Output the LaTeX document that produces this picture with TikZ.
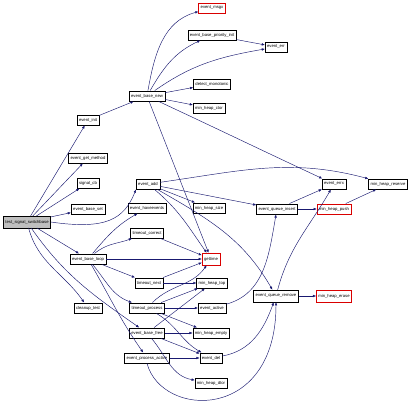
\documentclass[tikz,border=0pt]{standalone}
\usepackage{fontspec}
\setsansfont{Liberation Sans}
\usetikzlibrary{arrows.meta}
\definecolor{midnight}{HTML}{191970}

\begin{document}
\begin{tikzpicture}[
    x=1pt, y=1pt,
    fn/.style={draw, fill=white, minimum height=10.5pt, inner xsep=2pt, inner ysep=0pt,
               font=\fontsize{4.2}{5}\sffamily},
    ext/.style={fn, draw=red!85!black},
    call/.style={-{Latex[length=3.2pt, width=2.6pt]}, midnight, line width=0.45pt},
    >=Latex
  ]
  \useasboundingbox (0,0) rectangle (410,410);

  % --- caller and first level ---
  \node[fn, fill=gray!50, minimum height=11.5pt] (root) at (27,188) {test\_signal\_switchbase};
  \node[fn] (init)      at (88,290) {event\_init};
  \node[fn] (getmethod) at (88,252) {event\_get\_method};
  \node[fn] (sigcb)     at (88,227) {signal\_cb};
  \node[fn] (baseset)   at (88,201) {event\_base\_set};
  \node[fn] (loop)      at (88,151) {event\_base\_loop};
  \node[fn] (cleanup)   at (88,102) {cleanup\_test};

  % --- second level ---
  \node[fn] (basenew)    at (147,314) {event\_base\_new};
  \node[fn] (add)        at (148,226) {event\_add};
  \node[fn] (haveevents) at (147,202) {event\_haveevents};
  \node[fn] (tocorrect)  at (147,177) {timeout\_correct};
  \node[fn] (tonext)     at (149,127) {timeout\_next};
  \node[fn] (toprocess)  at (147,102) {timeout\_process};
  \node[fn] (basefree)   at (147,77)  {event\_base\_free};
  \node[fn] (procactive) at (147,52)  {event\_process\_active};

  % --- third level ---
  \node[ext] (msgx)      at (212,402) {event\_msgx};
  \node[fn]  (prioinit)  at (212,375) {event\_base\_priority\_init};
  \node[fn]  (monotonic) at (212,326) {detect\_monotonic};
  \node[fn]  (heapctor)  at (209,302) {min\_heap\_ctor};
  \node[fn]  (heapsize)  at (209,202) {min\_heap\_size};
  \node[ext, minimum height=12pt] (gettime) at (211,151) {gettime};
  \node[fn]  (heaptop)   at (212,127) {min\_heap\_top};
  \node[fn]  (active)    at (212,102) {event\_active};
  \node[fn]  (heapempty) at (211,77)  {min\_heap\_empty};
  \node[fn]  (del)       at (211,52)  {event\_del};
  \node[fn]  (heapdtor)  at (211,27)  {min\_heap\_dtor};

  % --- queue and heap helpers ---
  \node[fn]  (err)         at (276,363) {event\_err};
  \node[fn]  (qinsert)     at (277,201) {event\_queue\_insert};
  \node[fn, minimum height=12pt] (qremove) at (276,114) {event\_queue\_remove};
  \node[fn]  (errx)        at (334,226) {event\_errx};
  \node[ext] (heappush)    at (334,201) {min\_heap\_push};
  \node[ext, minimum height=12pt] (heaperase) at (334,114) {min\_heap\_erase};
  \node[fn]  (heapreserve) at (388,226) {min\_heap\_reserve};

  % --- calls from test_signal_switchbase ---
  \draw[call] (root) -- (init);
  \draw[call] (root) -- (getmethod);
  \draw[call] (root) -- (sigcb);
  \draw[call] (root) -- (baseset);
  \draw[call] (root.east) .. controls +(55,-8) and +(-12,-30) .. (add.south west);
  \draw[call] (root) -- (loop);
  \draw[call] (root) to[out=-75,in=125] (cleanup);
  \draw[call] (root) to[out=-55,in=145] (basefree);

  % --- event_init / event_base_new ---
  \draw[call] (init) -- (basenew);
  \draw[call] (basenew) to[out=80,in=-165] (msgx);
  \draw[call] (basenew) to[out=60,in=-155] (prioinit);
  \draw[call] (basenew) to[out=35,in=-170] (err);
  \draw[call] (prioinit) -- (err);
  \draw[call] (basenew) -- (monotonic);
  \draw[call] (basenew) -- (heapctor);
  \draw[call] (basenew) -- (gettime);
  \draw[call] (basenew) to[out=-25,in=155] (errx);

  % --- event_add ---
  \draw[call] (add) to[out=8,in=165] (heapreserve);
  \draw[call] (add) -- (heapsize);
  \draw[call] (add) -- (qinsert);
  \draw[call] (add) to[out=-40,in=125] (gettime);
  \draw[call] (add) to[out=-30,in=120] (qremove);

  % --- event_base_loop ---
  \draw[call] (loop) to[out=50,in=-150] (haveevents);
  \draw[call] (loop) to[out=40,in=-160] (tocorrect);
  \draw[call] (loop) -- (gettime);
  \draw[call] (loop) -- (tonext);
  \draw[call] (loop) to[out=-50,in=160] (toprocess);
  \draw[call] (loop) to[out=-60,in=125] (procactive);

  % --- timeouts ---
  \draw[call] (tocorrect) -- (gettime);
  \draw[call] (tonext) -- (heaptop);
  \draw[call] (tonext) -- (gettime);
  \draw[call] (toprocess) -- (heaptop);
  \draw[call] (toprocess) to[out=45,in=-125] (gettime);
  \draw[call] (toprocess) -- (active);
  \draw[call] (toprocess) -- (heapempty);
  \draw[call] (toprocess) to[out=-30,in=150] (del);

  % --- event_base_free / event_process_active ---
  \draw[call] (basefree) -- (heaptop);
  \draw[call] (basefree) -- (heapempty);
  \draw[call] (basefree) -- (del);
  \draw[call] (basefree) to[out=-50,in=170] (heapdtor);
  \draw[call] (procactive) -- (del);
  \draw[call] (procactive.south) .. controls +(15,-55) and +(0,-120) .. (qremove.south);

  % --- queue ---
  \draw[call] (del) to[out=10,in=-110] (qremove);
  \draw[call] (active) to[out=15,in=-100] (qinsert);
  \draw[call] (qinsert) -- (errx);
  \draw[call] (qinsert) -- (heappush);
  \draw[call] (heappush) -- (heapreserve);
  \draw[call] (qremove) to[out=75,in=-120] (errx);
  \draw[call] (qremove) -- (heaperase);

\end{tikzpicture}
\end{document}
